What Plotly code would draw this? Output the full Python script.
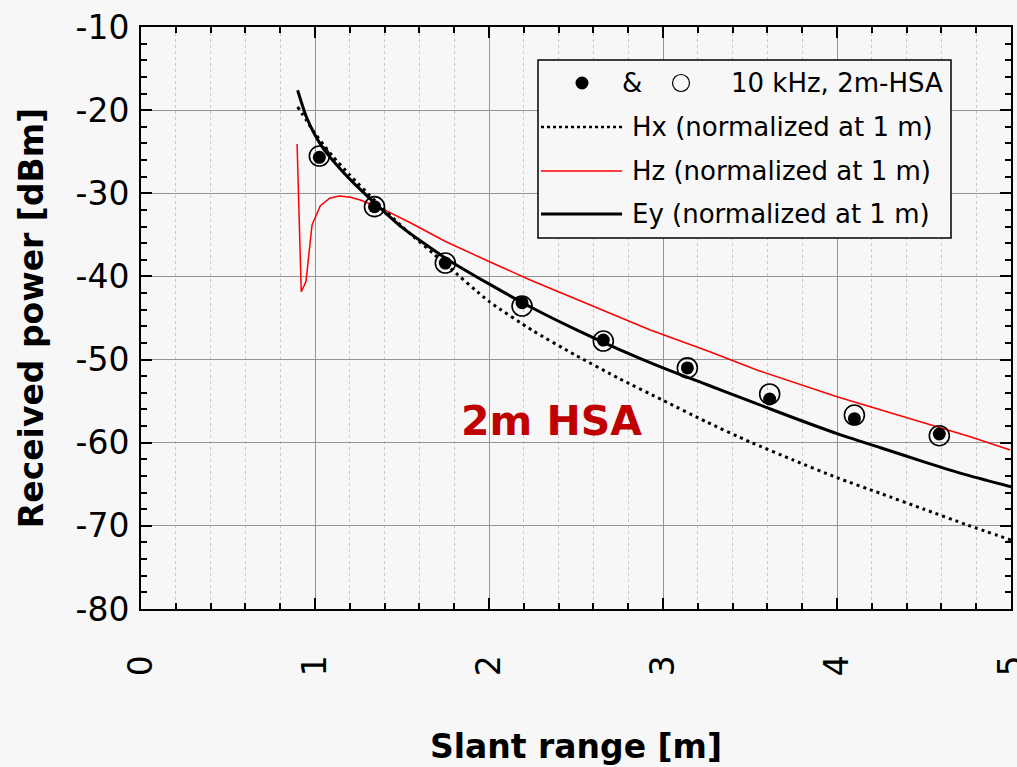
import plotly.graph_objects as go

# ---------------- data ----------------
meas_x = [1.025, 1.342, 1.749, 2.19, 2.657, 3.14, 3.613, 4.10, 4.588]
meas_filled = [-25.67, -31.61, -38.39, -43.16, -47.65, -51.0, -54.74, -57.11, -58.95]
meas_open = [-25.52, -31.61, -38.39, -43.56, -47.77, -51.0, -54.14, -56.67, -59.16]

curve_x = [0.9, 0.95, 1.0, 1.05, 1.1, 1.2, 1.35, 1.5, 1.75, 2.0, 2.25, 2.5,
           2.75, 3.0, 3.25, 3.5, 3.75, 4.0, 4.25, 4.5, 4.75, 5.0]
ey_vals = [-17.6, -20.8, -23.0, -24.7, -26.0, -28.3, -31.3, -34.1, -37.8, -40.9,
           -43.8, -46.4, -48.8, -51.0, -53.0, -55.0, -57.0, -58.9, -60.6, -62.3,
           -63.9, -65.3]
hx_vals = [-19.6, -21.2, -22.8, -24.2, -25.5, -27.8, -31.0, -34.0, -38.5, -43.0,
           -46.5, -49.5, -52.3, -54.9, -57.5, -59.9, -62.1, -64.2, -66.1, -68.0,
           -69.9, -71.7]

hz_x = [0.897, 0.921, 0.948, 0.983, 1.030, 1.084, 1.141, 1.203, 1.26, 1.318,
        1.394, 1.548, 1.75, 2.0, 2.237, 2.582, 2.927, 3.25, 3.54, 4.0, 4.594,
        4.766, 4.996]
hz_vals = [-24.07, -41.84, -40.63, -33.82, -31.53, -30.60, -30.33, -30.48,
           -30.81, -31.29, -31.93, -33.54, -35.8, -38.2, -40.43, -43.44, -46.44,
           -48.9, -51.26, -54.47, -58.27, -59.28, -60.88]

x_tickvals = [0, 1, 2, 3, 4, 5]
x_ticktext = ["0", "1", "2", "3", "4", "5"]
y_tickvals = [-10, -20, -30, -40, -50, -60, -70, -80]
y_ticktext = ["-10", "-20", "-30", "-40", "-50", "-60", "-70", "-80"]

legend_labels = ["10 kHz, 2m-HSA", "Hx (normalized at 1 m)",
                 "Hz (normalized at 1 m)", "Ey (normalized at 1 m)"]
x_title = "Slant range [m]"
y_title = "Received power [dBm]"
panel_label = "2m HSA"

# ---------------- figure ----------------
W, H = 1017, 767
ML, MR, MT, MB = 141, 6, 27, 158
FONT = "DejaVu Sans"
BG = "#f7f7f7"
LEGEND_SIZE = 26

fig = go.Figure()

fig.add_trace(go.Scatter(x=hz_x, y=hz_vals, mode="lines",
                         line=dict(color="#ff0000", width=1.5),
                         name=legend_labels[2], showlegend=False))
fig.add_trace(go.Scatter(x=curve_x, y=hx_vals, mode="lines",
                         line=dict(color="black", width=3, dash="3px,4px",
                                   shape="spline", smoothing=0.6),
                         name=legend_labels[1], showlegend=False))
fig.add_trace(go.Scatter(x=curve_x, y=ey_vals, mode="lines",
                         line=dict(color="black", width=3,
                                   shape="spline", smoothing=0.6),
                         name=legend_labels[3], showlegend=False))
fig.add_trace(go.Scatter(x=meas_x, y=meas_open, mode="markers",
                         marker=dict(symbol="circle-open", size=20, color="black",
                                     line=dict(width=1.6, color="black")),
                         name=legend_labels[0] + " (open)", showlegend=False))
fig.add_trace(go.Scatter(x=meas_x, y=meas_filled, mode="markers",
                         marker=dict(symbol="circle", size=13, color="black"),
                         name=legend_labels[0], showlegend=False))

pw = W - ML - MR
ph = H - MT - MB


def px(xp):
    return (xp - ML) / pw


def py(yp):
    return (H - MB - yp) / ph


shapes = []
annotations = []

# legend box (manual legend)
shapes.append(dict(type="rect", xref="paper", yref="paper",
                   x0=px(538), x1=px(951), y0=py(238), y1=py(60),
                   line=dict(color="black", width=1.5), fillcolor=BG,
                   layer="above"))
row_y = [83, 127, 171, 214]
shapes.append(dict(type="circle", xref="paper", yref="paper",
                   xsizemode="pixel", ysizemode="pixel",
                   xanchor=px(582), yanchor=py(row_y[0]),
                   x0=-6.5, x1=6.5, y0=-6.5, y1=6.5,
                   fillcolor="black", line=dict(color="black", width=0),
                   layer="above"))
shapes.append(dict(type="circle", xref="paper", yref="paper",
                   xsizemode="pixel", ysizemode="pixel",
                   xanchor=px(681), yanchor=py(row_y[0]),
                   x0=-8.5, x1=8.5, y0=-8.5, y1=8.5,
                   line=dict(color="black", width=1.2), layer="above"))
annotations.append(dict(xref="paper", yref="paper", x=px(632), y=py(row_y[0]),
                        text="&", showarrow=False, xanchor="center",
                        yanchor="middle", font=dict(family=FONT, size=LEGEND_SIZE,
                                                    color="black")))
annotations.append(dict(xref="paper", yref="paper", x=px(729), y=py(row_y[0]),
                        text=legend_labels[0], showarrow=False, xanchor="left",
                        yanchor="middle", font=dict(family=FONT, size=LEGEND_SIZE,
                                                    color="black")))
line_styles = [dict(color="black", width=2.5, dash="dot"),
               dict(color="#ff0000", width=1.5),
               dict(color="black", width=3)]
for i in range(3):
    yy = py(row_y[i + 1])
    shapes.append(dict(type="line", xref="paper", yref="paper",
                       x0=px(541), x1=px(622), y0=yy, y1=yy,
                       line=line_styles[i], layer="above"))
    annotations.append(dict(xref="paper", yref="paper", x=px(630), y=yy,
                            text=legend_labels[i + 1], showarrow=False,
                            xanchor="left", yanchor="middle",
                            font=dict(family=FONT, size=LEGEND_SIZE,
                                      color="black")))

annotations.append(dict(x=2.358, y=-57.4, xref="x", yref="y", text=panel_label,
                        showarrow=False, xanchor="center", yanchor="middle",
                        font=dict(family=FONT, size=41, color="#c00000",
                                  weight="bold")))

axis_common = dict(showline=True, linewidth=2, linecolor="black",
                   mirror="allticks", ticks="inside", tickwidth=2,
                   tickcolor="black", ticklen=11, zeroline=False,
                   showgrid=True, gridcolor="#959595", gridwidth=1,
                   tickfont=dict(family=FONT, size=33, color="black"))

fig.update_layout(
    width=W, height=H, autosize=False,
    margin=dict(l=ML, r=MR, t=MT, b=MB, pad=0),
    paper_bgcolor=BG, plot_bgcolor=BG,
    showlegend=False,
    font=dict(family=FONT, color="black"),
    xaxis=dict(range=[0, 5], tickvals=x_tickvals, ticktext=x_ticktext,
               tickangle=-90, ticklabelstandoff=31, ticklabeloverflow="allow",
               minor=dict(dtick=0.2, ticks="inside", ticklen=6, tickwidth=2,
                          tickcolor="black", showgrid=True,
                          gridcolor="#c8c8c8", griddash="dot", gridwidth=1),
               title=dict(text=x_title, standoff=60,
                          font=dict(family=FONT, size=33, weight="bold")),
               automargin=False, **axis_common),
    yaxis=dict(range=[-80, -10], tickvals=y_tickvals, ticktext=y_ticktext,
               ticklabelstandoff=3,
               minor=dict(dtick=2, ticks="inside", ticklen=6, tickwidth=2,
                          tickcolor="black", showgrid=False),
               title=dict(text=y_title, standoff=22,
                          font=dict(family=FONT, size=33, weight="bold")),
               automargin=False, **axis_common),
    shapes=shapes,
    annotations=annotations,
)

fig.write_html("out.html")
